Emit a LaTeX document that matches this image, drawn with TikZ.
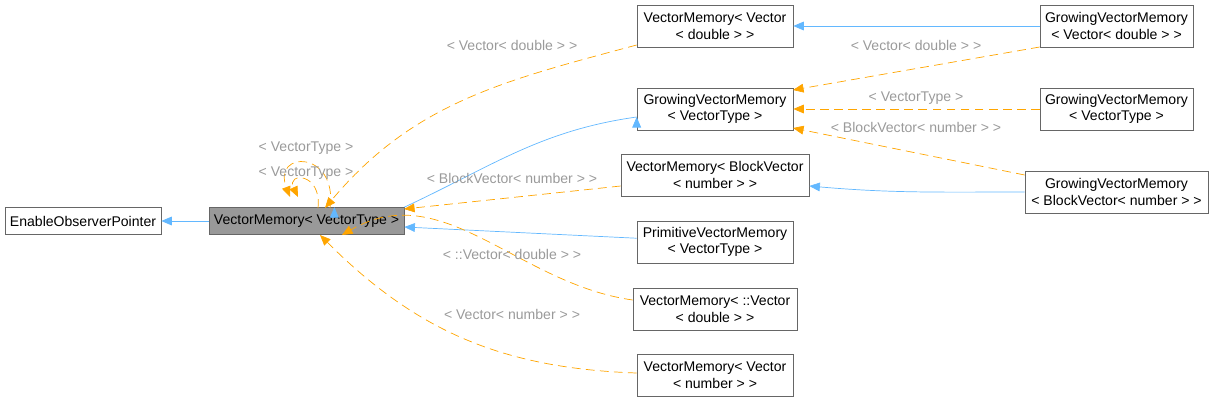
\documentclass[tikz,border=0pt]{standalone}
\usepackage{fontspec}
\setmainfont{Liberation Sans}
\usetikzlibrary{arrows.meta}
\definecolor{inhblue}{HTML}{63B8FF}
\definecolor{tmplorange}{HTML}{FFA500}
\definecolor{boxline}{HTML}{666666}
\definecolor{lblgray}{HTML}{9A9A9A}

\begin{document}
\begin{tikzpicture}[x=0.02cm,y=-0.02cm,
  box/.style={draw=boxline,font=\fontsize{8}{9.5}\selectfont,align=center,inner sep=0pt,minimum height=0.84cm},
  inh/.style={draw=inhblue,-{Triangle[length=6pt,width=5pt]}},
  tmpl/.style={draw=tmplorange,dashed,dash pattern=on 5pt off 3pt,-{Triangle[length=6pt,width=5pt]}},
  lbl/.style={text=lblgray,font=\fontsize{8}{9.5}\selectfont}]

   \useasboundingbox (0,0) rectangle (1213,403);

   % classes
   \node[box,minimum width=3.12cm,minimum height=0.54cm] (eop) at (83,221) {EnableObserverPointer};
   \node[box,fill=black!40,minimum width=3.9cm,minimum height=0.54cm] (vm) at (306.5,221) {VectorMemory< VectorType >};

   \node[box,minimum width=3.12cm] (vmvd) at (715,26) {VectorMemory< Vector\\< double > >};
   \node[box,minimum width=3.12cm] (gvm) at (715,109) {GrowingVectorMemory\\< VectorType >};
   \node[box,minimum width=3.76cm] (vmbv) at (715,175) {VectorMemory< BlockVector\\< number > >};
   \node[box,minimum width=3.12cm] (pvm) at (715,242) {PrimitiveVectorMemory\\< VectorType >};
   \node[box,minimum width=3.28cm] (vmcv) at (715,309) {VectorMemory< ::Vector\\< double > >};
   \node[box,minimum width=3.12cm] (vmvn) at (715,375) {VectorMemory< Vector\\< number > >};

   \node[box,minimum width=3.06cm] (gvmvd) at (1116.5,26) {GrowingVectorMemory\\< Vector< double > >};
   \node[box,minimum width=3.06cm] (gvmvt) at (1116.5,109) {GrowingVectorMemory\\< VectorType >};
   \node[box,minimum width=3.66cm] (gvmbv) at (1116.5,192) {GrowingVectorMemory\\< BlockVector< number > >};

   % inheritance
   \draw[inh] (vm) -- (eop);
   \draw[inh] (gvm.west) ++(0,8) to[out=188,in=25] (vm.north east) ++(-70,0);
   \draw[inh] (gvm.west) ++(0,8) coordinate (g1);
   \coordinate (vmt) at (333,208);
   \draw[inh] (pvm) -- (vm.east |- 0,227);
   \draw[inh] (gvmvd) -- (vmvd);
   \draw[inh] (gvmbv.west) to[out=180,in=-5] (vmbv.east |- 0,186);

   % templates
   \coordinate (s1) at (637,45);
   \draw[tmpl] (vmvd.west |- s1) to[out=195,in=50] (325,208);
   \draw[tmpl] (vmbv.west |- 0,186) -- (404,209);
   \draw[tmpl] (vmcv.west |- 0,300) to[out=172,in=30] (342,235);
   \draw[tmpl] (vmvn.west |- 0,373) to[out=178,in=-45] (320,235);
   \draw[tmpl] (gvmvd.west |- 0,47) -- (793,90);
   \draw[tmpl] (gvmvt) -- (gvm);
   \draw[tmpl] (gvmbv.west |- 0,175) -- (793,128);

   % self loops
   \draw[tmpl] (330,208) .. controls (338,150) and (272,150) .. (290,197);
   \draw[tmpl] (318,208) .. controls (322,172) and (286,172) .. (298,197);

   % labels
   \node[lbl] (l1) at (512,45) {< Vector< double > >};
   \node[lbl] (l2) at (512,178) {< BlockVector< number > >};
   \node[lbl] (l3) at (512,254) {< ::Vector< double > >};
   \node[lbl] (l4) at (512,314) {< Vector< number > >};
   \node[lbl] (l5) at (916,45) {< Vector< double > >};
   \node[lbl] (l6) at (916,98) {< VectorType >};
   \node[lbl] (l7) at (916,127) {< BlockVector< number > >};
   \node[lbl] (l8) at (306,148) {< VectorType >};
   \node[lbl] (l9) at (306,173) {< VectorType >};
\end{tikzpicture}
\end{document}
